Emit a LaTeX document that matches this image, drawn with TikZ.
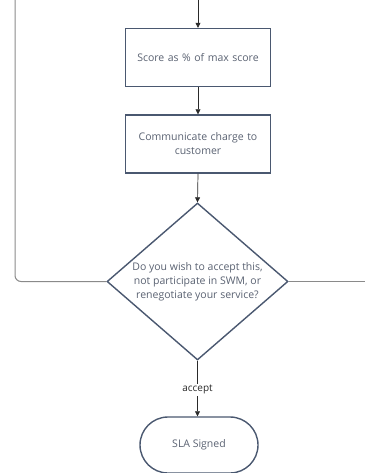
\documentclass[tikz,border=0pt]{standalone}
\usepackage{fontspec}
\setmainfont{Open Sans}
\usetikzlibrary{arrows.meta,shapes.geometric}
\definecolor{boxline}{HTML}{4A5870}
\definecolor{txt}{HTML}{5A6272}
\definecolor{conn}{HTML}{2A2A2A}
\definecolor{side}{HTML}{8A8A8A}
\begin{document}
\begin{tikzpicture}[x=1pt,y=-1pt,
  procbox/.style={draw=boxline,line width=1.4pt,fill=white,minimum width=145pt,minimum height=58pt,
    text width=140pt,align=center,font=\fontsize{10.5}{14}\selectfont,text=txt,inner sep=0pt},
  decision/.style={draw=boxline,line width=1.4pt,diamond,fill=white,minimum width=181pt,minimum height=157pt,
    inner sep=0pt},
  dectext/.style={align=center,font=\fontsize{10.5}{14}\selectfont,text=txt,inner sep=0pt},
  terminal/.style={draw=boxline,line width=1.4pt,rounded corners=28pt,fill=white,minimum width=118pt,minimum height=56pt,
    font=\fontsize{10.5}{13}\selectfont,text=txt},
  flow/.style={draw=conn,line width=0.7pt,-{Triangle[width=5pt,length=5pt]}},
  sideline/.style={draw=side,line width=1pt,rounded corners=6pt},
  lbl/.style={fill=white,font=\fontsize{10}{12}\selectfont,text=conn,inner sep=1.5pt}]
\useasboundingbox (0,0) rectangle (365,473);
\coordinate (topin) at (198,0);
\node[procbox] (score) at (198,57.5) {Score as \% of max score};
\node[procbox] (comm) at (198,144) {Communicate charge to\\ customer};
\node[decision] (dec) at (197.5,281.5) {};
\node[dectext] (dect) at (dec.center) {Do you wish to accept this,\\ not participate in SWM, or\\ renegotiate your service?};
\node[terminal] (sla) at (199,445) {SLA Signed};
\coordinate (ltop) at (15,0);
\coordinate (lbot) at (15,281.5);
\coordinate (rend) at (365,281.5);
\draw[flow] (topin) -- (score.north);
\draw[flow] (score) -- (comm);
\draw[flow] (comm.south) -- (dec.north);
\draw[flow] (dec.south) -- node[lbl,pos=0.52] {accept} (sla.north -| dec.south);
\draw[sideline] (ltop) -- (lbot) -- (dec.west);
\draw[sideline] (dec.east) -- (rend);
\end{tikzpicture}
\end{document}
